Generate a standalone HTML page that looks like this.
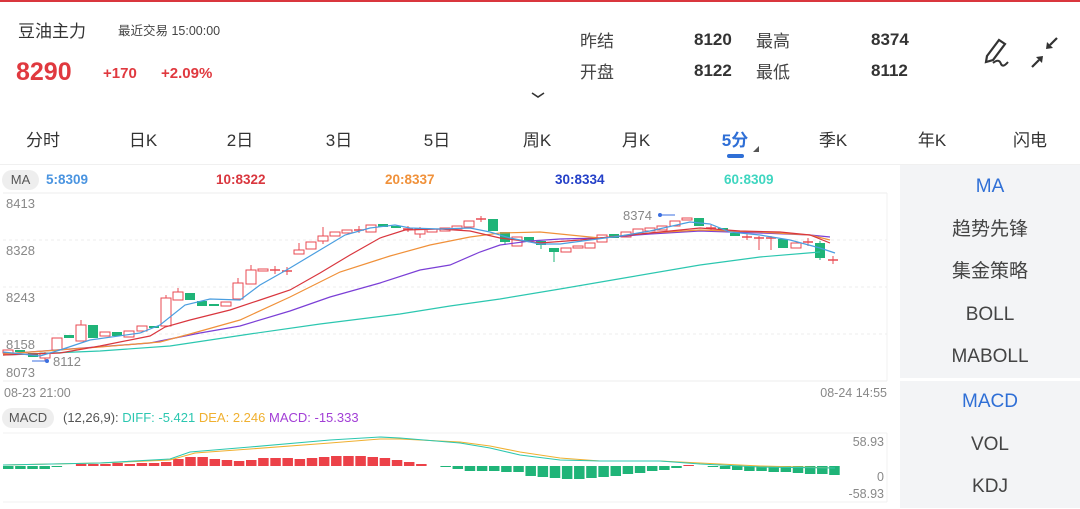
<!DOCTYPE html>
<html><head><meta charset="utf-8">
<style>
body{margin:0;width:1080px;height:508px;overflow:hidden;background:#fff;font-family:"Liberation Sans","Noto Sans CJK SC",sans-serif;position:relative;color:#333}
.a{position:absolute;white-space:nowrap}
.tab{position:absolute;top:126px;font-size:17px;color:#333;transform:translateX(-50%)}
.side{position:absolute;left:900px;width:180px;background:#f3f4f6}
.side div{text-align:center;font-size:19px;color:#444;height:42.5px;line-height:42.5px}
</style></head><body>
<div class="a" style="left:0;top:0;width:1080px;height:2px;background:#d9363e"></div>
<div class="a" style="left:18px;top:17px;font-size:17px;color:#333">豆油主力</div>
<div class="a" style="left:118px;top:20px;font-size:12.5px;color:#444">最近交易 15:00:00</div>
<div class="a" style="left:16px;top:58px;font-size:25px;font-weight:bold;color:#e0393f">8290</div>
<div class="a" style="left:103px;top:65px;font-size:15px;font-weight:bold;color:#e0393f">+170</div>
<div class="a" style="left:161px;top:65px;font-size:15px;font-weight:bold;color:#e0393f">+2.09%</div>
<div class="a" style="left:580px;top:27px;font-size:17px;color:#444">昨结</div>
<div class="a" style="left:580px;top:58px;font-size:17px;color:#444">开盘</div>
<div class="a" style="left:694px;top:30px;font-size:17px;font-weight:bold;color:#333">8120</div>
<div class="a" style="left:694px;top:61px;font-size:17px;font-weight:bold;color:#333">8122</div>
<div class="a" style="left:756px;top:27px;font-size:17px;color:#444">最高</div>
<div class="a" style="left:756px;top:58px;font-size:17px;color:#444">最低</div>
<div class="a" style="left:871px;top:30px;font-size:17px;font-weight:bold;color:#333">8374</div>
<div class="a" style="left:871px;top:61px;font-size:17px;font-weight:bold;color:#333">8112</div>
<svg class="a" style="left:975px;top:30px" width="100" height="45" viewBox="0 0 100 45">
<path d="M12 26 L24 10 L30 14 L18 30 L11 32 Z" fill="none" stroke="#333" stroke-width="2.2"/>
<path d="M18 33 Q24 28 26 34 Q28 38 33 32" fill="none" stroke="#333" stroke-width="2"/>
<path d="M57 37 L64 30" stroke="#333" stroke-width="2.2"/><path d="M68 26 L61 27 L67 33 Z" fill="#333"/>
<path d="M82 8 L75 15" stroke="#333" stroke-width="2.2"/><path d="M71 19 L78 18 L72 12 Z" fill="#333"/>
</svg>
<svg class="a" style="left:530px;top:90px" width="16" height="10"><path d="M2 3 L8 7 L14 3" fill="none" stroke="#333" stroke-width="1.6"/></svg>
<div class="tab" style="left:43px">分时</div>
<div class="tab" style="left:143px">日K</div>
<div class="tab" style="left:240px">2日</div>
<div class="tab" style="left:339px">3日</div>
<div class="tab" style="left:437px">5日</div>
<div class="tab" style="left:537px">周K</div>
<div class="tab" style="left:636px">月K</div>
<div class="tab" style="left:735px;color:#2f6fd6;font-weight:bold">5分</div>
<div class="tab" style="left:833px">季K</div>
<div class="tab" style="left:932px">年K</div>
<div class="tab" style="left:1030px">闪电</div>
<div class="a" style="left:727px;top:154px;width:17px;height:4px;border-radius:2px;background:#2f6fd6"></div>
<svg class="a" style="left:752px;top:145px" width="8" height="8"><path d="M7 1 L7 7 L1 7 Z" fill="#555"/></svg>
<div class="a" style="left:0;top:164px;width:1080px;height:1px;background:#f0f0f0"></div>

<div class="side" style="top:165px;height:212px;padding-top:1px">
<div style="color:#2f6fd6">MA</div><div>趋势先锋</div><div>集金策略</div><div>BOLL</div><div>MABOLL</div></div>
<div class="side" style="top:381px;height:127px">
<div style="color:#2f6fd6">MACD</div><div>VOL</div><div>KDJ</div></div>

<div class="a" style="left:2px;top:170px;width:37px;height:20px;border-radius:10px;background:#eeeeee;font-size:13px;line-height:20px;text-align:center;color:#555">MA</div>
<div class="a" style="left:46px;top:172px;font-size:13.5px;font-weight:bold;color:#4a94e0">5:8309</div>
<div class="a" style="left:216px;top:172px;font-size:13.5px;font-weight:bold;color:#d9363e">10:8322</div>
<div class="a" style="left:385px;top:172px;font-size:13.5px;font-weight:bold;color:#f0913a">20:8337</div>
<div class="a" style="left:555px;top:172px;font-size:13.5px;font-weight:bold;color:#2440c8">30:8334</div>
<div class="a" style="left:724px;top:172px;font-size:13.5px;font-weight:bold;color:#3fd6c0">60:8309</div>
<div class="a" style="left:2px;top:408px;width:52px;height:20px;border-radius:10px;background:#eeeeee;font-size:13px;line-height:20px;text-align:center;color:#555">MACD</div>
<div class="a" style="left:63px;top:410px;font-size:13px;color:#555">(12,26,9): <span style="color:#2cc7b0">DIFF: -5.421</span> <span style="color:#f0b030">DEA: 2.246</span> <span style="color:#a23ed6">MACD: -15.333</span></div>

<svg id="c" class="a" style="left:0;top:190px" width="895" height="318"></svg>
<script>
var s=document.getElementById('c'),h='';
function ty(y){return y-190}
[193,240,287,334,381].forEach(function(y,i){h+='<line x1="3" x2="887" y1="'+ty(y)+'" y2="'+ty(y)+'" stroke="#eee" '+(i>0&&i<4?'stroke-dasharray="3,3"':'')+'/>';});
h+='<line x1="887" x2="887" y1="'+ty(193)+'" y2="'+ty(381)+'" stroke="#f0f0f0"/>';
h+='<line x1="3" x2="887" y1="'+ty(433)+'" y2="'+ty(433)+'" stroke="#f0f0f0"/><line x1="3" x2="887" y1="'+ty(502)+'" y2="'+ty(502)+'" stroke="#f0f0f0"/><line x1="887" x2="887" y1="'+ty(433)+'" y2="'+ty(502)+'" stroke="#f0f0f0"/>';
var lab=[[8413,196],[8328,243],[8243,290],[8158,337],[8073,365]];
lab.forEach(function(l){h+='<text x="6" y="'+ty(l[1]+12)+'" font-size="13" fill="#888">'+l[0]+'</text>';});
h+='<text x="4" y="'+ty(397)+'" font-size="12.5" fill="#888">08-23 21:00</text><text x="887" text-anchor="end" y="'+ty(397)+'" font-size="12.5" fill="#888">08-24 14:55</text>';
h+='<text x="884" text-anchor="end" y="'+ty(446)+'" font-size="12.5" fill="#888">58.93</text><text x="884" text-anchor="end" y="'+ty(481)+'" font-size="12.5" fill="#888">0</text><text x="884" text-anchor="end" y="'+ty(498)+'" font-size="12.5" fill="#888">-58.93</text>';
var C=[[8,353,350],[20,350,352],[33,353,357],[45,358,353,352,361],[57,350,338],[69,335,338],[81,341,325,320,341],[93,325,338],[105,336,332],[117,332,336],[129,337,331],[142,331,326],[154,326,328],[166,326,298,295,326],[178,300,292,288,300],[190,293,300],[202,301,306],[214,304,306],[226,306,302],[238,299,283,278,299],[251,284,270,265,284],[263,271,269],[275,270,270,266,274],[287,271,271,267,275],[299,254,250,243,254],[311,249,242],[323,241,236,227,244],[335,236,232],[347,233,230],[359,230,230,226,233],[371,232,225],[383,224,227],[396,226,228],[408,229,229,226,232],[420,234,229,227,238],[432,232,229],[445,231,228],[457,229,226],[469,227,221],[481,219,219,216,222],[493,219,231],[505,232,242,232,245],[517,246,237],[529,237,241],[541,241,245,241,249],[554,248,252,248,262],[566,252,248],[578,248,246],[590,248,243],[602,242,235],[614,234,238],[626,237,232],[638,234,229],[650,231,228],[662,230,226],[675,226,221],[687,220,218],[699,218,226],[711,228,228,225,232],[723,228,232],[735,233,236],[747,237,237,234,240],[759,238,238,236,250],[771,238,238,236,250],[783,239,248],[796,248,243],[808,242,242,238,246],[820,243,258,241,260],[833,260,260,256,264]];
C.forEach(function(c){var x=c[0],o=c[1],cl=c[2],up=cl<=o,col=up?'#e84a52':'#1fb478';var hi=c[3]||Math.min(o,cl),lo=c[4]||Math.max(o,cl);var t=Math.min(o,cl),b=Math.max(o,cl);
h+='<line x1="'+x+'" x2="'+x+'" y1="'+ty(hi)+'" y2="'+ty(lo)+'" stroke="'+col+'"/>';
if(b-t<1.5)h+='<line x1="'+(x-5)+'" x2="'+(x+5)+'" y1="'+ty(t)+'" y2="'+ty(t)+'" stroke="'+col+'" stroke-width="1.5"/>';
else if(up)h+='<rect x="'+(x-5)+'" y="'+ty(t)+'" width="10" height="'+(b-t)+'" fill="#fff" stroke="'+col+'"/>';
else h+='<rect x="'+(x-5)+'" y="'+ty(t)+'" width="10" height="'+(b-t)+'" fill="'+col+'"/>';});
function pl(p,c,w){h+='<polyline fill="none" stroke="'+c+'" stroke-width="'+(w||1.2)+'" points="'+p.map(function(q){return q[0]+','+ty(q[1])}).join(' ')+'"/>';}
pl([[3,355],[100,351],[170,346],[250,334],[320,324],[400,314],[450,306],[500,299],[560,289],[630,277],[700,265],[760,257],[820,252]],'#2cc7b0');
pl([[3,354],[150,343],[200,333],[240,326],[290,311],[330,297],[380,283],[420,270],[450,265],[480,252],[500,245],[530,241],[560,239],[600,238],[650,234],[700,231],[760,233],[810,235],[830,237]],'#7b3fd6');
pl([[3,354],[100,347],[160,342],[190,334],[240,320],[290,297],[340,272],[390,256],[430,245],[470,237],[500,233],[540,232],[600,238],[650,233],[700,230],[760,232],[810,235],[830,240]],'#f0913a');
pl([[3,355],[60,353],[100,346],[150,336],[165,327],[190,320],[230,310],[260,300],[290,290],[320,273],[350,255],[380,238],[405,230],[440,229],[470,231],[500,238],[540,243],[580,240],[620,236],[660,232],[700,228],[740,231],[780,232],[810,235],[830,243]],'#d9363e');
pl([[3,352],[40,356],[60,350],[90,340],[140,333],[160,325],[185,305],[210,299],[240,300],[260,285],[290,268],[320,250],[345,235],[370,228],[395,225],[410,228],[440,229],[470,228],[490,232],[510,238],[540,244],[560,244],[590,240],[620,236],[650,231],[690,222],[710,224],[730,232],[760,235],[790,240],[820,248],[835,253]],'#4a9ee0');
h+='<line x1="32" x2="47" y1="'+ty(361)+'" y2="'+ty(361)+'" stroke="#3b6fe0"/><circle cx="47" cy="'+ty(361)+'" r="2" fill="#3b6fe0"/><text x="53" y="'+ty(366)+'" font-size="13" fill="#888">8112</text>';
h+='<line x1="660" x2="675" y1="'+ty(215)+'" y2="'+ty(215)+'" stroke="#3b6fe0"/><circle cx="660" cy="'+ty(215)+'" r="2" fill="#3b6fe0"/><text x="623" y="'+ty(220)+'" font-size="13" fill="#888">8374</text>';
var M=[-3,-3,-3,-3,-1,0,2,2,2,3,2,3,3,4,7,9,9,7,6,5,6,8,8,8,7,8,9,10,10,10,9,8,6,4,2,0,-1,-3,-5,-5,-5,-6,-6,-10,-11,-12,-13,-13,-12,-11,-10,-8,-7,-5,-4,-2,1,0,-1,-3,-4,-5,-5,-6,-6,-7,-8,-8,-9];
var z=466;
M.forEach(function(v,i){var x=3+12.15*i;if(v==0)return;var col=v>0?'#ec4148':'#1fb478';
h+='<rect x="'+x+'" y="'+ty(v>0?z-v:z)+'" width="10.5" height="'+Math.abs(v)+'" fill="'+col+'"/>';});
pl([[3,465],[100,463],[170,460],[195,453],[250,449],[330,443],[380,439],[400,439],[460,442],[490,446],[520,452],[560,458],[600,461],[660,461],[700,463],[760,466],[835,468]],'#f0b030',1.1);
pl([[3,465],[100,463],[170,459],[190,452],[250,447],[330,440],[380,437],[400,438],[460,443],[490,448],[520,455],[560,460],[600,461],[660,461],[700,464],[760,467],[835,468]],'#2cc7b0',1.1);
s.innerHTML=h;
</script>
</body></html>
